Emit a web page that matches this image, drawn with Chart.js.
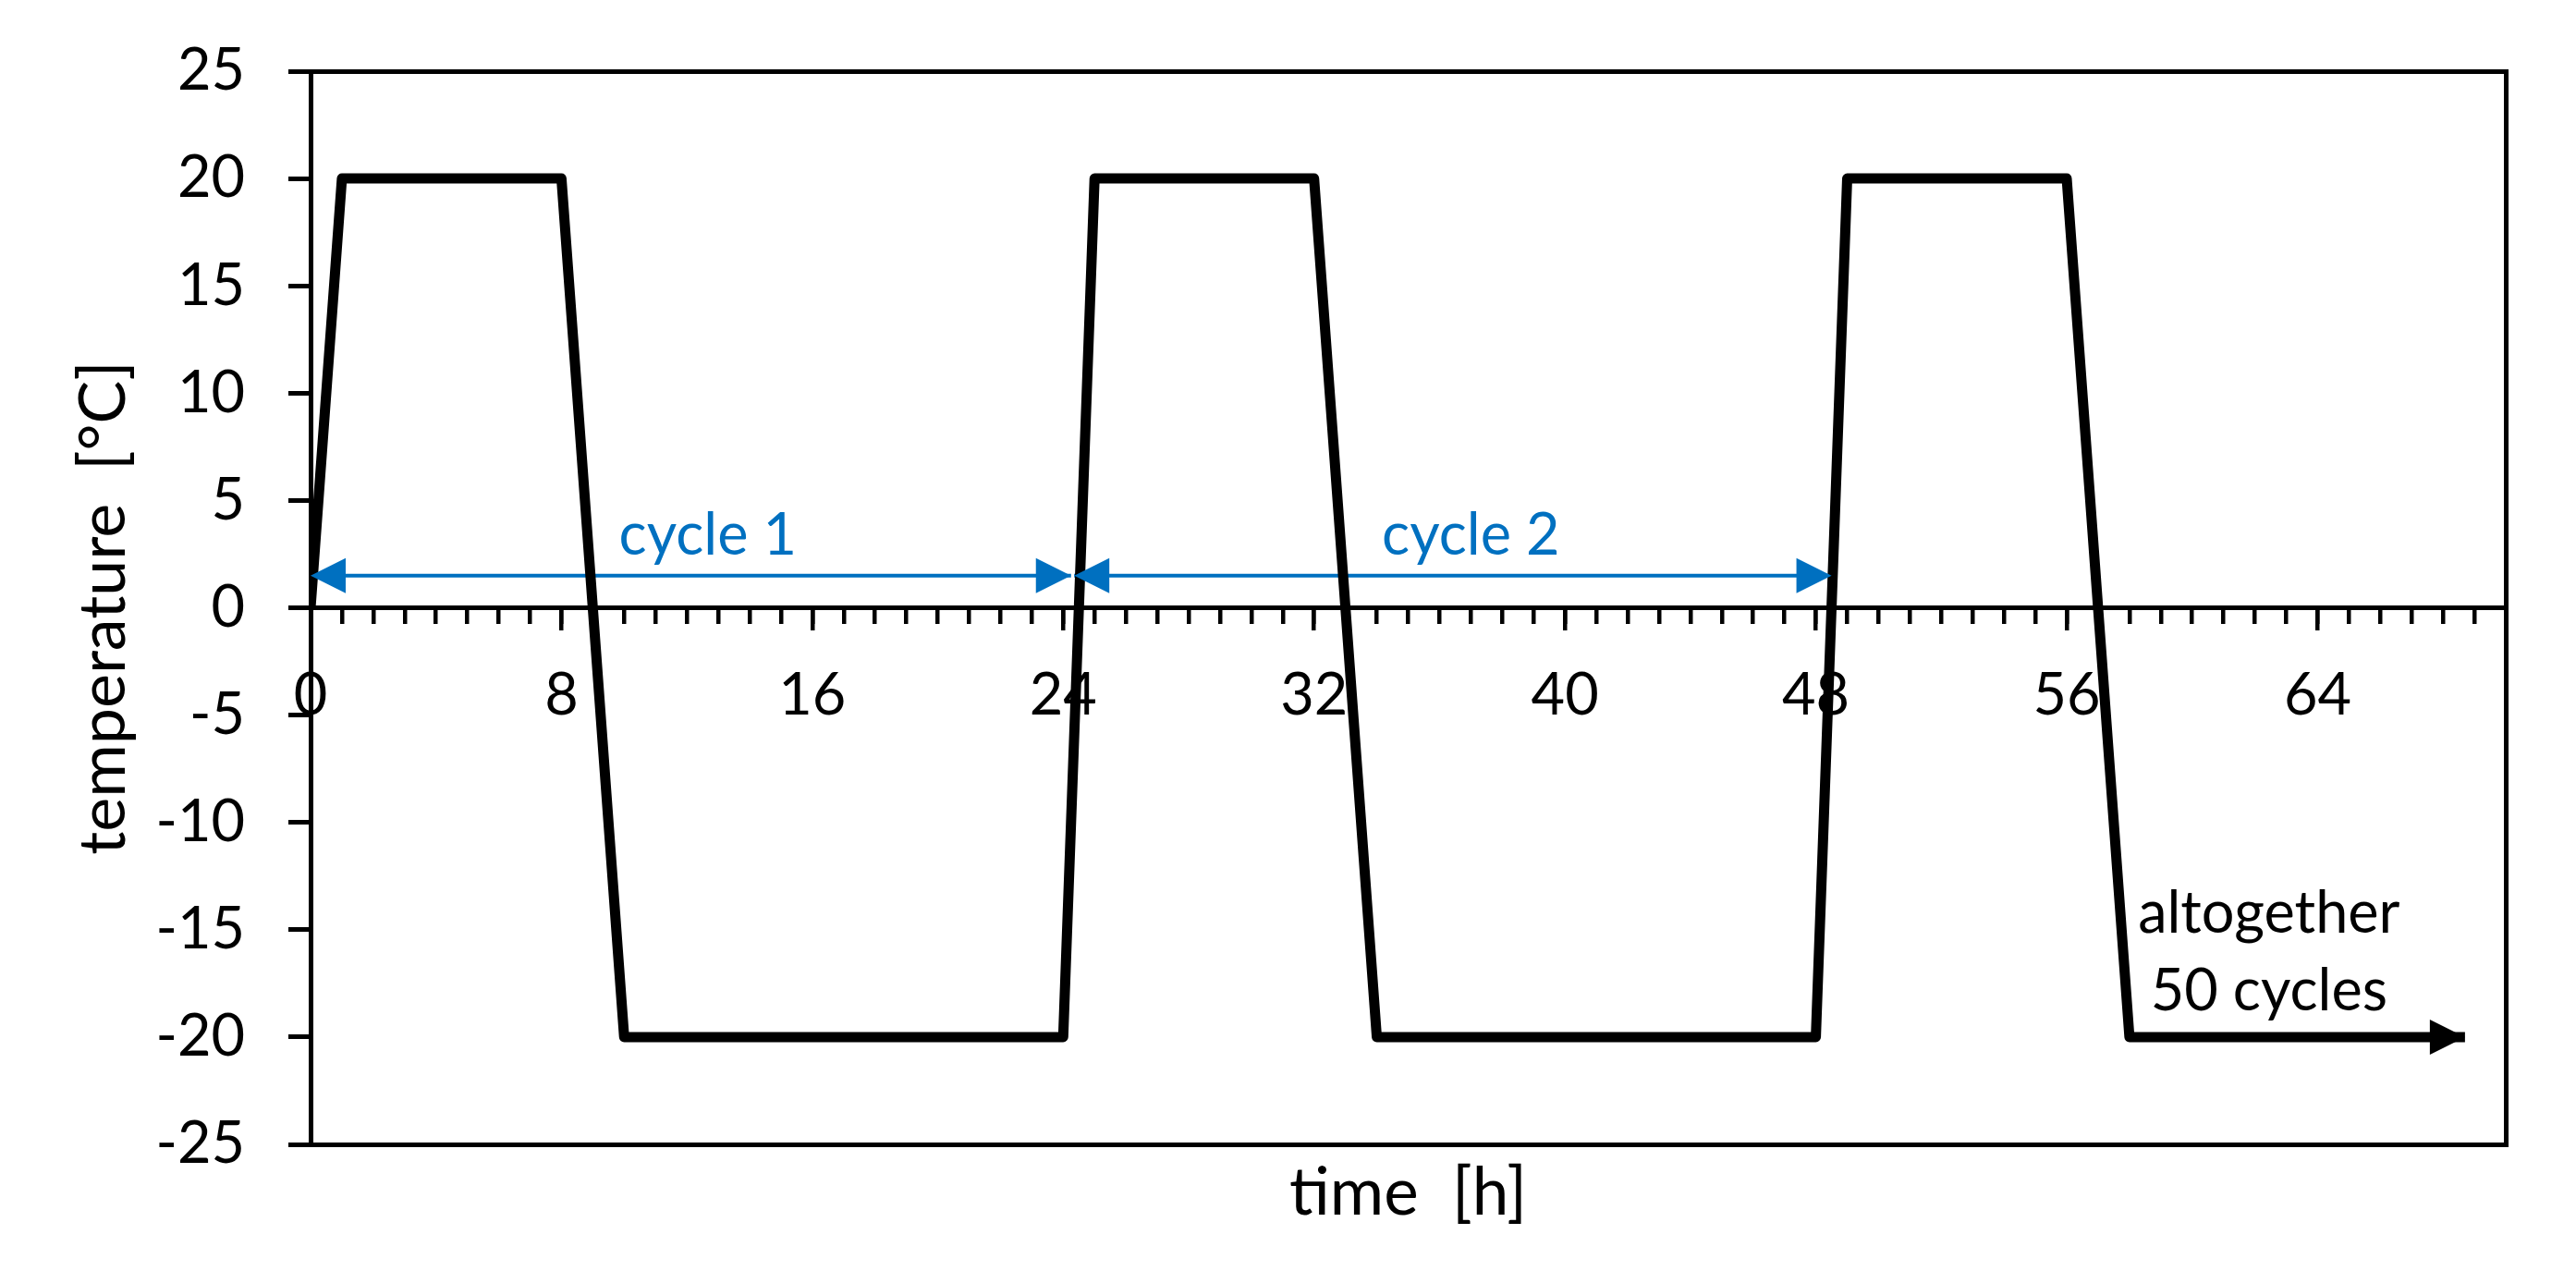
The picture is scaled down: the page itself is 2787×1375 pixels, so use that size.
<!DOCTYPE html>
<html>
<head>
<meta charset="utf-8">
<script src="https://cdn.jsdelivr.net/npm/chart.js@4/dist/chart.umd.min.js"></script>
<style>
    html, body { margin: 0; padding: 0; background: #fff; }
    canvas { display: block; }
</style>
</head>
<body>
<canvas id="cycleChart" width="2787" height="1375"></canvas>
<script>
// Temperature profile (time in h, temperature in °C)
const hours = [0, 1, 8, 10, 24, 25, 32, 34, 48, 49, 56, 58, 68.7];
const temps = [0, 20, 20, -20, -20, 20, 20, -20, -20, 20, 20, -20, -20];

// Blue cycle arrows
const cycle1Hours = [0, 24.25];
const cycle2Hours = [24.35, 48.5];
const cycleTemp = [1.5, 1.5];

// Tick labels
const xLabelHours = [0, 8, 16, 24, 32, 40, 48, 56, 64];
const yLabelTemps = [-25, -20, -15, -10, -5, 0, 5, 10, 15, 20, 25];

// Text notes inside the plot
const noteTexts = ['cycle 1', 'cycle 2', 'altogether', '50 cycles'];
const noteHours = [12.67, 37.0, 62.45, 62.45];
const noteTemps = [2.48, 2.48, -15.14, -18.76];

const BLUE = '#0070C0';
const FONT = 'Lato';

Chart.defaults.font.family = FONT;
Chart.defaults.font.size = 63;
Chart.defaults.color = '#000';

const toPoints = (xs, ys) => xs.map((x, i) => ({ x: x, y: ys[i] }));

// draws arrowheads at the ends of datasets that ask for them
const arrowHeads = {
    id: 'arrowHeads',
    afterDatasetsDraw(chart) {
        const ctx = chart.ctx;
        chart.data.datasets.forEach((ds, i) => {
            if (!ds.arrows) return;
            const pts = chart.getDatasetMeta(i).data;
            const n = pts.length;
            ds.arrows.forEach(end => {
                const tip = end === 'end' ? pts[n - 1] : pts[0];
                const prev = end === 'end' ? pts[n - 2] : pts[1];
                const a = Math.atan2(tip.y - prev.y, tip.x - prev.x);
                const len = 38, half = 19;
                ctx.save();
                ctx.translate(tip.x, tip.y);
                ctx.rotate(a);
                ctx.beginPath();
                ctx.moveTo(0, 0);
                ctx.lineTo(-len, -half);
                ctx.lineTo(-len, half);
                ctx.closePath();
                ctx.fillStyle = ds.borderColor;
                ctx.fill();
                ctx.restore();
            });
        });
    }
};

// text notes placed in data units
const notes = {
    id: 'notes',
    afterDatasetsDraw(chart) {
        const ctx = chart.ctx;
        const xs = chart.scales.x, ys = chart.scales.y;
        ctx.save();
        ctx.font = '63px ' + FONT;
        ctx.textAlign = 'center';
        ctx.textBaseline = 'alphabetic';
        noteTexts.forEach((t, i) => {
            ctx.fillStyle = t.startsWith('cycle') ? BLUE : '#000';
            ctx.fillText(t, xs.getPixelForValue(noteHours[i]), ys.getPixelForValue(noteTemps[i]));
        });
        ctx.restore();
    }
};

const frameAxis = (position, extra) => Object.assign({
    type: 'linear',
    position: position,
    min: position === 'right' ? -25 : 0,
    max: position === 'right' ? 25 : 70,
    ticks: { display: false },
    grid: { display: false, drawTicks: false, lineWidth: 5 },
    border: { display: true, width: 5, color: '#000' },
    afterFit: s => { if (s.isHorizontal()) s.height = 0; else s.width = 0; }
}, extra || {});

new Chart(document.getElementById('cycleChart'), {
    type: 'line',
    data: {
        datasets: [
            {
                data: toPoints(hours, temps),
                borderColor: '#000',
                borderWidth: 11,
                borderJoinStyle: 'round',
                pointRadius: 0,
                tension: 0,
                arrows: ['end']
            },
            {
                data: toPoints(cycle1Hours, cycleTemp),
                borderColor: BLUE,
                borderWidth: 4,
                pointRadius: 0,
                arrows: ['start', 'end']
            },
            {
                data: toPoints(cycle2Hours, cycleTemp),
                borderColor: BLUE,
                borderWidth: 4,
                pointRadius: 0,
                arrows: ['start', 'end']
            }
        ]
    },
    options: {
        responsive: false,
        animation: false,
        devicePixelRatio: 1,
        layout: { padding: { top: 77, right: 76, bottom: 0, left: 0 } },
        plugins: { legend: { display: false }, tooltip: { enabled: false } },
        scales: {
            // minor ticks every hour, hanging below the zero line
            x: {
                type: 'linear',
                position: { y: 0 },
                min: 0,
                max: 70,
                ticks: { stepSize: 1, display: false },
                grid: { drawOnChartArea: false, drawTicks: true, tickLength: 15, lineWidth: 4.5, color: '#000' },
                border: { display: true, width: 5, color: '#000' },
                afterFit: s => { s.height = 0; }
            },
            // labelled ticks every 8 h
            xMajor: {
                type: 'linear',
                position: { y: 0 },
                min: 0,
                max: 70,
                afterBuildTicks: s => { s.ticks = xLabelHours.map(v => ({ value: v })); },
                ticks: { padding: 35, maxRotation: 0, autoSkip: false },
                grid: { drawOnChartArea: false, drawTicks: true, tickLength: 22, lineWidth: 4.5, color: '#000' },
                border: { display: true, width: 5, color: '#000' },
                afterFit: s => { s.height = 0; }
            },
            y: {
                type: 'linear',
                position: 'left',
                min: -25,
                max: 25,
                afterBuildTicks: s => { s.ticks = yLabelTemps.map(v => ({ value: v })); },
                ticks: { padding: 47 },
                grid: { drawOnChartArea: false, drawTicks: true, tickLength: 24, lineWidth: 5, color: '#000' },
                border: { display: true, width: 5, color: '#000' },
                title: { display: true, text: 'temperature  [°C]', font: { size: 70 }, padding: { top: 70, bottom: 0 } },
                afterFit: s => { s.width = 336; s.paddingTop = 0; s.paddingBottom = 0; }
            },
            xTop: frameAxis('top'),
            yRight: frameAxis('right'),
            xTitle: frameAxis('bottom', {
                title: { display: true, text: 'time  [h]', font: { size: 71 }, padding: { top: 0, bottom: 41 } },
                afterFit: s => { s.height = 137; }
            })
        }
    },
    plugins: [arrowHeads, notes]
});
</script>
</body>
</html>
